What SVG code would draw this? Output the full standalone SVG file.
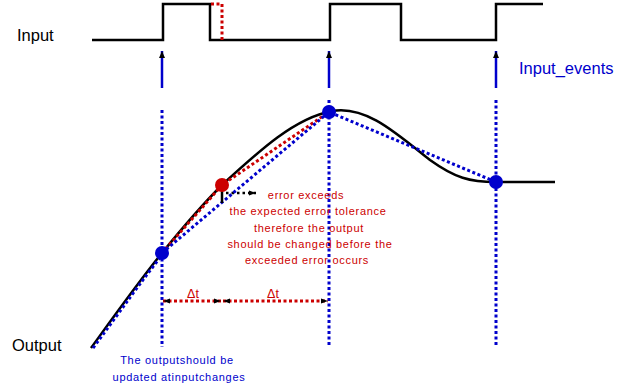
<svg xmlns="http://www.w3.org/2000/svg" width="633" height="388" viewBox="0 0 633 388">
<style>
.lbl{font-family:"Liberation Sans",Arial,sans-serif;font-size:16.5px;fill:#000}
.bl{fill:#0000cc}
.sm{font-family:"Liberation Sans",Arial,sans-serif;font-size:11px;letter-spacing:0.7px;text-anchor:middle}
.dt{font-size:12.5px;letter-spacing:0}
.red{fill:#cc0000}
.dotb{fill:none;stroke:#0000cc;stroke-width:3;stroke-dasharray:3 2.5}
.dotr{fill:none;stroke:#cc0000;stroke-width:3;stroke-dasharray:3 2.5}
.solid{fill:none;stroke:#000;stroke-width:2.5}
</style>
<defs>
<marker id="ah" markerWidth="8" markerHeight="8" refX="7" refY="4" orient="auto" markerUnits="userSpaceOnUse">
<path d="M0,1 L7,4 L0,7 z" fill="#000"/>
</marker>
<marker id="ahs" markerWidth="8" markerHeight="8" refX="7" refY="4" orient="auto-start-reverse" markerUnits="userSpaceOnUse">
<path d="M0,1.5 L7,4 L0,6.5 z" fill="#000"/>
</marker>
</defs>
<g id="labels">
<text class="lbl" x="17" y="41">Input</text>
<text class="lbl" x="12" y="351">Output</text>
<text class="lbl bl" x="519" y="74">Input_events</text>
</g>
<g id="input-signal">
<path class="solid" d="M92,40 H163 V4 H210 V40 H330 V4 H401 V40 H496 V4 H543"/>
<path class="dotr" d="M211,4 H222 V40"/>
</g>
<g id="connectors">
<line x1="162" y1="88" x2="162" y2="51" stroke="#0000cc" stroke-width="2.5" marker-end="url(#ah)"/>
<line x1="329" y1="88" x2="329" y2="51" stroke="#0000cc" stroke-width="2.5" marker-end="url(#ah)"/>
<line x1="496" y1="88" x2="496" y2="51" stroke="#0000cc" stroke-width="2.5" marker-end="url(#ah)"/>
<line class="dotb" x1="162" y1="110" x2="162" y2="347"/>
<line class="dotb" x1="329" y1="100" x2="329" y2="347"/>
<line class="dotb" x1="496" y1="100" x2="496" y2="347"/>
<line class="dotr" x1="163" y1="301" x2="221" y2="301" marker-start="url(#ahs)" marker-end="url(#ahs)"/>
<line class="dotr" x1="223" y1="301" x2="328" y2="301" marker-start="url(#ahs)" marker-end="url(#ahs)"/>
<line x1="226" y1="193" x2="256" y2="193" stroke="#000" stroke-width="2.5" stroke-dasharray="2.5 3" marker-end="url(#ahs)"/>
</g>
<g id="output-curve">
<path class="solid" d="M91,348 C120,308 140,280 162,253 S205,202 222,185 C260,150 295,118 332,111 C365,105 395,132 430,160 C455,178 470,182 496,182 L555,182"/>
<path class="dotb" d="M93,348 C122,309 142,280 163,254"/>
<path class="dotr" d="M162,253 L222,185 L329,112"/>
<path class="dotb" d="M162,253 L329,112 L496,182"/>
<line x1="222" y1="186" x2="222" y2="203" stroke="#000" stroke-width="2.5"/>
</g>
<g id="points">
<circle cx="162" cy="253" r="7" fill="#0000cc"/>
<circle cx="329" cy="112" r="7" fill="#0000cc"/>
<circle cx="496" cy="182" r="7" fill="#0000cc"/>
<circle cx="222" cy="185" r="7" fill="#cc0000"/>
</g>
<g id="notes">
<text class="sm red" x="306" y="199">error exceeds</text>
<text class="sm red" x="308" y="215">the expected error tolerance</text>
<text class="sm red" x="309" y="232">therefore the output</text>
<text class="sm red" x="310" y="248">should be changed before the</text>
<text class="sm red" x="307" y="264">exceeded error occurs</text>
<text class="sm dt red" x="193" y="298">Δt</text>
<text class="sm dt red" x="273" y="298">Δt</text>
<text class="sm bl" x="177" y="364">The outputshould be</text>
<text class="sm bl" x="179" y="381">updated atinputchanges</text>
</g>
</svg>
